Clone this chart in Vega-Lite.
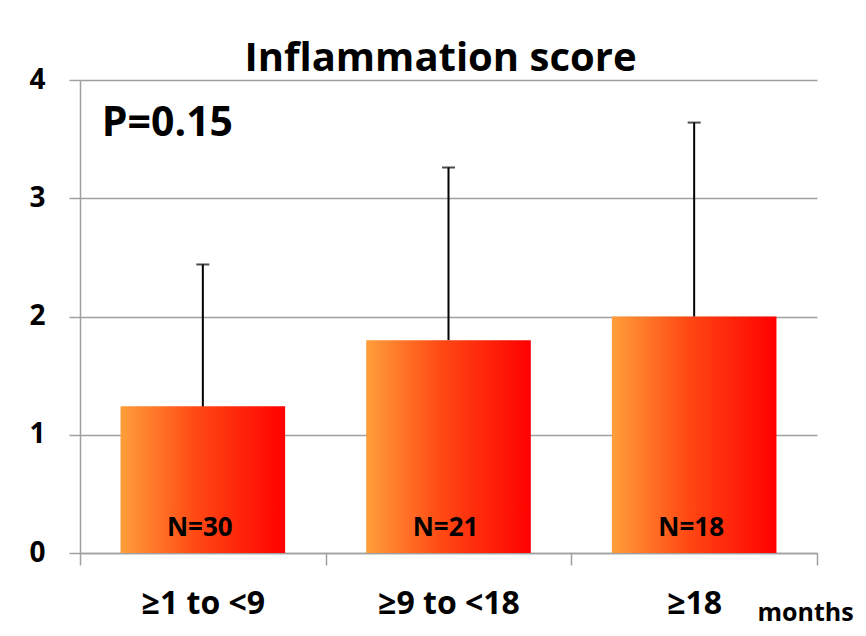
{
  "$schema": "https://vega.github.io/schema/vega-lite/v6.json",
  "width": 737,
  "height": 473,
  "autosize": {"type": "none"},
  "padding": {"left": 80, "top": 80, "right": 49, "bottom": 83},
  "background": "white",
  "title": {
    "text": "Inflammation score",
    "font": "Open Sans",
    "fontSize": 40,
    "fontWeight": "bold",
    "color": "black",
    "anchor": "middle",
    "baseline": "alphabetic",
    "offset": 8,
    "dx": -8,
    "dy": 53
  },
  "data": {
    "values": [
      {"group": "≥1 to <9", "mean": 1.24, "upper": 2.44, "n": "N=30"},
      {"group": "≥9 to <18", "mean": 1.8, "upper": 3.26, "n": "N=21"},
      {"group": "≥18", "mean": 2.0, "upper": 3.64, "n": "N=18"}
    ]
  },
  "encoding": {
    "x": {
      "field": "group",
      "type": "nominal",
      "sort": null,
      "scale": {"paddingInner": 0, "paddingOuter": 0},
      "axis": {
        "title": "months",
        "titleFont": "Open Sans",
        "titleFontSize": 25,
        "titleFontWeight": "bold",
        "titleColor": "black",
        "titleAnchor": "start",
        "titleAlign": "left",
        "titleX": 677,
        "titleY": 67,
        "titleBaseline": "alphabetic",
        "labelAngle": 0,
        "labelFont": "Open Sans",
        "labelFontSize": 32,
        "labelFontWeight": "bold",
        "labelColor": "black",
        "labelBaseline": "alphabetic",
        "labelPadding": 48,
        "tickBand": "extent",
        "tickSize": 12,
        "tickColor": "#A0A0A0",
        "tickWidth": 1.5,
        "domainColor": "#A0A0A0",
        "domainWidth": 1.5,
        "grid": false
      }
    }
  },
  "layer": [
    {
      "mark": {
        "type": "bar",
        "width": {"band": 0.67},
        "fill": {
          "gradient": "linear",
          "x1": 0, "y1": 0, "x2": 1, "y2": 0,
          "stops": [
            {"offset": 0, "color": "#FF9E3A"},
            {"offset": 0.45, "color": "#FF4A14"},
            {"offset": 1, "color": "#FF0000"}
          ]
        }
      },
      "encoding": {
        "y": {
          "field": "mean",
          "type": "quantitative",
          "scale": {"domain": [0, 4], "nice": false},
          "axis": {
            "title": null,
            "values": [0, 1, 2, 3, 4],
            "format": "d",
            "labelFont": "Open Sans",
            "labelFontSize": 28,
            "labelFontWeight": "bold",
            "labelColor": "black",
            "labelPadding": 24,
            "tickSize": 11,
            "tickColor": "#A0A0A0",
            "tickWidth": 1.5,
            "domainColor": "#A0A0A0",
            "domainWidth": 1.5,
            "grid": true,
            "gridColor": "#A0A0A0",
            "gridWidth": 1.5
          }
        }
      }
    },
    {
      "mark": {"type": "rule", "color": "black", "strokeWidth": 2},
      "encoding": {
        "y": {"field": "mean", "type": "quantitative"},
        "y2": {"field": "upper"}
      }
    },
    {
      "mark": {"type": "tick", "color": "black", "thickness": 2, "size": 13},
      "encoding": {
        "y": {"field": "upper", "type": "quantitative"}
      }
    },
    {
      "mark": {
        "type": "text",
        "font": "Open Sans",
        "fontSize": 26,
        "fontWeight": "bold",
        "color": "black",
        "baseline": "alphabetic",
        "dx": -3
      },
      "encoding": {
        "y": {"datum": 0.144},
        "text": {"field": "n"}
      }
    },
    {
      "data": {"values": [{"label": "P=0.15"}]},
      "mark": {
        "type": "text",
        "font": "Open Sans",
        "fontSize": 41,
        "fontWeight": "bold",
        "color": "black",
        "align": "left",
        "baseline": "alphabetic",
        "dx": -101
      },
      "encoding": {
        "x": {"datum": "≥1 to <9"},
        "y": {"datum": 3.526},
        "text": {"field": "label"}
      }
    }
  ],
  "config": {
    "view": {"stroke": null}
  }
}
